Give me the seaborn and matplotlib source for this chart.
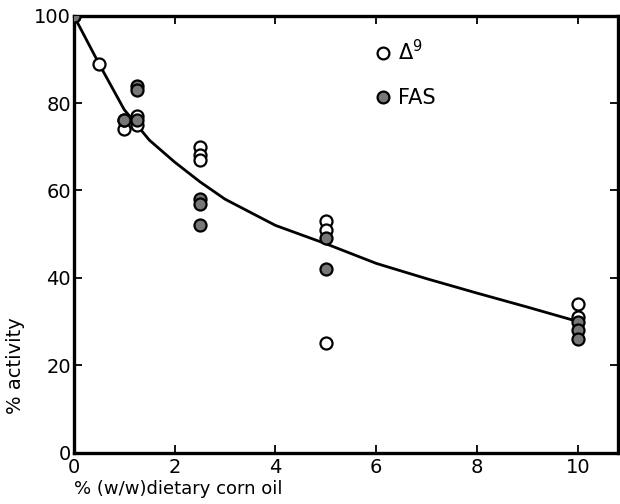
import matplotlib
matplotlib.use("Agg")
import matplotlib.pyplot as plt
import seaborn as sns
import pandas as pd
from matplotlib.lines import Line2D

# data
delta9_x = [0, 0.5, 1, 1, 1.25, 1.25, 2.5, 2.5, 2.5, 5, 5, 5, 10, 10]
delta9_y = [100, 89, 74, 76, 77, 75, 70, 68, 67, 53, 51, 25, 34, 31]
fas_x = [0, 1, 1.25, 1.25, 1.25, 2.5, 2.5, 2.5, 5, 5, 10, 10, 10]
fas_y = [100, 76, 84, 83, 76, 58, 57, 52, 49, 42, 30, 28, 26]
curve_x = [0, 0.5, 1, 1.5, 2, 2.5, 3, 3.5, 4, 5, 6, 7, 8, 9, 10]
curve_y = [100, 89, 78.5, 71.5, 66.5, 62, 58, 55, 52, 47.8, 43.3, 39.8, 36.5, 33.3, 30]
x_ticks = [0, 2, 4, 6, 8, 10]
y_ticks = [0, 20, 40, 60, 80, 100]

sns.set_style("ticks")
plt.rcParams['font.family'] = ['DejaVu Sans']
plt.rcParams['text.color'] = 'black'
plt.rcParams['axes.labelcolor'] = 'black'

fig = plt.figure(figsize=(6.2, 5.04), dpi=100)
ax = fig.add_axes([0.119, 0.102, 0.878, 0.867])

d9 = pd.DataFrame({"x": delta9_x, "y": delta9_y})
fas = pd.DataFrame({"x": fas_x, "y": fas_y})
cur = pd.DataFrame({"x": curve_x, "y": curve_y})

sns.lineplot(data=cur, x="x", y="y", ax=ax, color="black", linewidth=2.0, zorder=2)
sns.scatterplot(data=d9, x="x", y="y", ax=ax, marker="o", s=75,
                facecolor="white", edgecolor="black", linewidth=1.6, zorder=3)
sns.scatterplot(data=fas, x="x", y="y", ax=ax, marker="o", s=75,
                facecolor="#777777", edgecolor="black", linewidth=1.6, zorder=4)

ax.set_xlim(0, 10.8)
ax.set_ylim(0, 100)
ax.set_xticks(x_ticks)
ax.set_yticks(y_ticks)
ax.tick_params(direction="in", length=6, width=1.3, labelsize=14, pad=4,
               top=True, right=True, colors="black")
ax.tick_params(axis="y", pad=2)
for s in ax.spines.values():
    s.set_visible(True)
    s.set_linewidth(2.4)
    s.set_color("black")

ax.set_xlabel("% (w/w)dietary corn oil", fontsize=13, loc="left", labelpad=2, color="black")
ax.set_ylabel("% activity", fontsize=14, color="black")
ax.yaxis.set_label_coords(-0.09, 0.2)

handles = [
    Line2D([], [], marker="o", linestyle="none", markersize=8.5,
           markerfacecolor="white", markeredgecolor="black", markeredgewidth=1.6),
    Line2D([], [], marker="o", linestyle="none", markersize=8.5,
           markerfacecolor="#777777", markeredgecolor="black", markeredgewidth=1.6),
]
leg = ax.legend(handles, ["Δ$^9$", "FAS"], loc="upper left", bbox_to_anchor=(0.515, 0.99),
                frameon=False, fontsize=15, labelspacing=1.15, handletextpad=0.2,
                handlelength=1.0)
for t in leg.get_texts():
    t.set_color("black")

fig.savefig("out.png", dpi=100)
